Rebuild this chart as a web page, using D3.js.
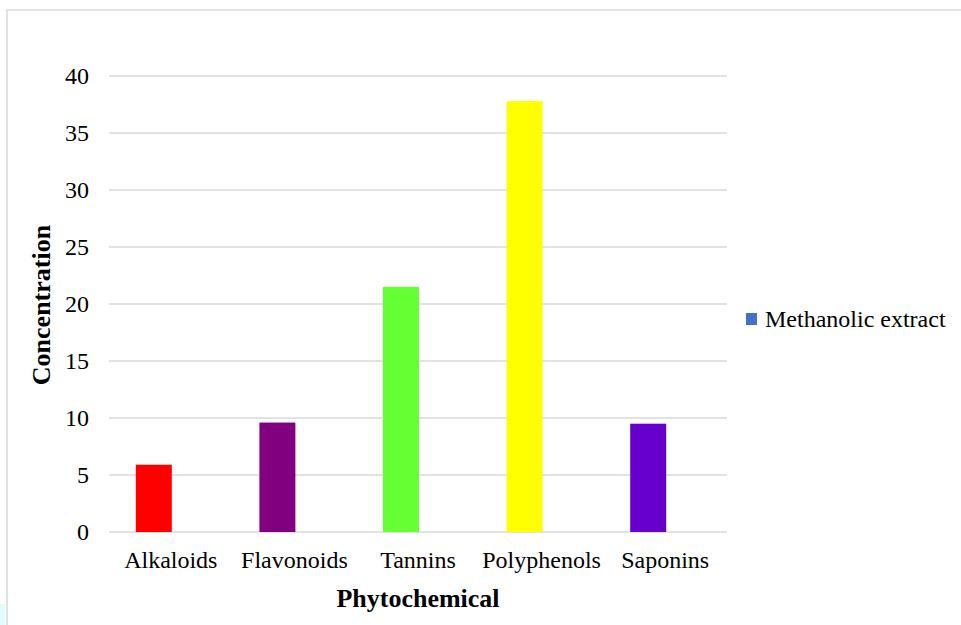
<!DOCTYPE html>
<html>
<head>
<meta charset="utf-8">
<script src="https://cdn.jsdelivr.net/npm/d3@7"></script>
<style>
  body { margin: 0; background: #fff; }
  text { font-family: "Liberation Serif", "Times New Roman", serif; fill: #000; }
</style>
</head>
<body>
<div id="chart"></div>
<script>
// data
const categories = ["Alkaloids", "Flavonoids", "Tannins", "Polyphenols", "Saponins"];
const values = [5.9, 9.6, 21.5, 37.8, 9.5];
const barColors = ["#ff0000", "#800080", "#66ff33", "#ffff00", "#6600cc"];
const yTicks = [0, 5, 10, 15, 20, 25, 30, 35, 40];
const seriesName = "Methanolic extract";

const width = 961, height = 625;

const svg = d3.select("#chart")
  .append("svg")
    .attr("width", width)
    .attr("height", height);

// chart frame (only top/left visible)
svg.append("rect")
  .attr("x", 7).attr("y", 10)
  .attr("width", 970).attr("height", 640)
  .attr("fill", "none")
  .attr("stroke", "#d9d9d9")
  .attr("stroke-width", 1.5);

// small cyan strip at bottom-left corner
svg.append("rect")
  .attr("x", 0).attr("y", 604).attr("width", 5).attr("height", 21)
  .attr("fill", "#e3fbfd");

const x = d3.scaleBand()
  .domain(categories)
  .range([109, 727]);

const y = d3.scaleLinear()
  .domain([0, 40])
  .range([532, 76]);

// gridlines
svg.append("g")
  .selectAll("line")
  .data(yTicks)
  .join("line")
    .attr("x1", x.range()[0])
    .attr("x2", x.range()[1])
    .attr("y1", d => y(d))
    .attr("y2", d => y(d))
    .attr("stroke", "#d9d9d9")
    .attr("stroke-width", 1.3);

// y tick labels
svg.append("g")
  .selectAll("text")
  .data(yTicks)
  .join("text")
    .attr("x", 89)
    .attr("y", d => y(d))
    .attr("dy", "0.35em")
    .attr("text-anchor", "end")
    .style("font-size", "24px")
    .text(d => d);

// bars sit in the left half of each group (second series slot empty)
const barW = 36;
svg.append("g")
  .selectAll("rect")
  .data(categories)
  .join("rect")
    .attr("x", d => x(d) + x.bandwidth() / 2 - barW + 1)
    .attr("y", (d, i) => y(values[i]))
    .attr("width", barW)
    .attr("height", (d, i) => y(0) - y(values[i]))
    .attr("fill", (d, i) => barColors[i]);

// x labels
svg.append("g")
  .selectAll("text")
  .data(categories)
  .join("text")
    .attr("x", d => x(d) + x.bandwidth() / 2)
    .attr("y", 568)
    .attr("text-anchor", "middle")
    .style("font-size", "24px")
    .text(d => d);

// axis titles
svg.append("text")
  .attr("x", 418)
  .attr("y", 607)
  .attr("text-anchor", "middle")
  .style("font-size", "26px")
  .style("font-weight", "bold")
  .text("Phytochemical");

svg.append("text")
  .attr("transform", "translate(50,305) rotate(-90)")
  .attr("text-anchor", "middle")
  .style("font-size", "26px")
  .style("font-weight", "bold")
  .text("Concentration");

// legend
const legend = svg.append("g").attr("transform", "translate(746,313)");
legend.append("rect")
  .attr("width", 11).attr("height", 12)
  .attr("fill", "#4472c4");
legend.append("text")
  .attr("x", 19)
  .attr("y", 14)
  .style("font-size", "24px")
  .text(seriesName);
</script>
</body>
</html>
